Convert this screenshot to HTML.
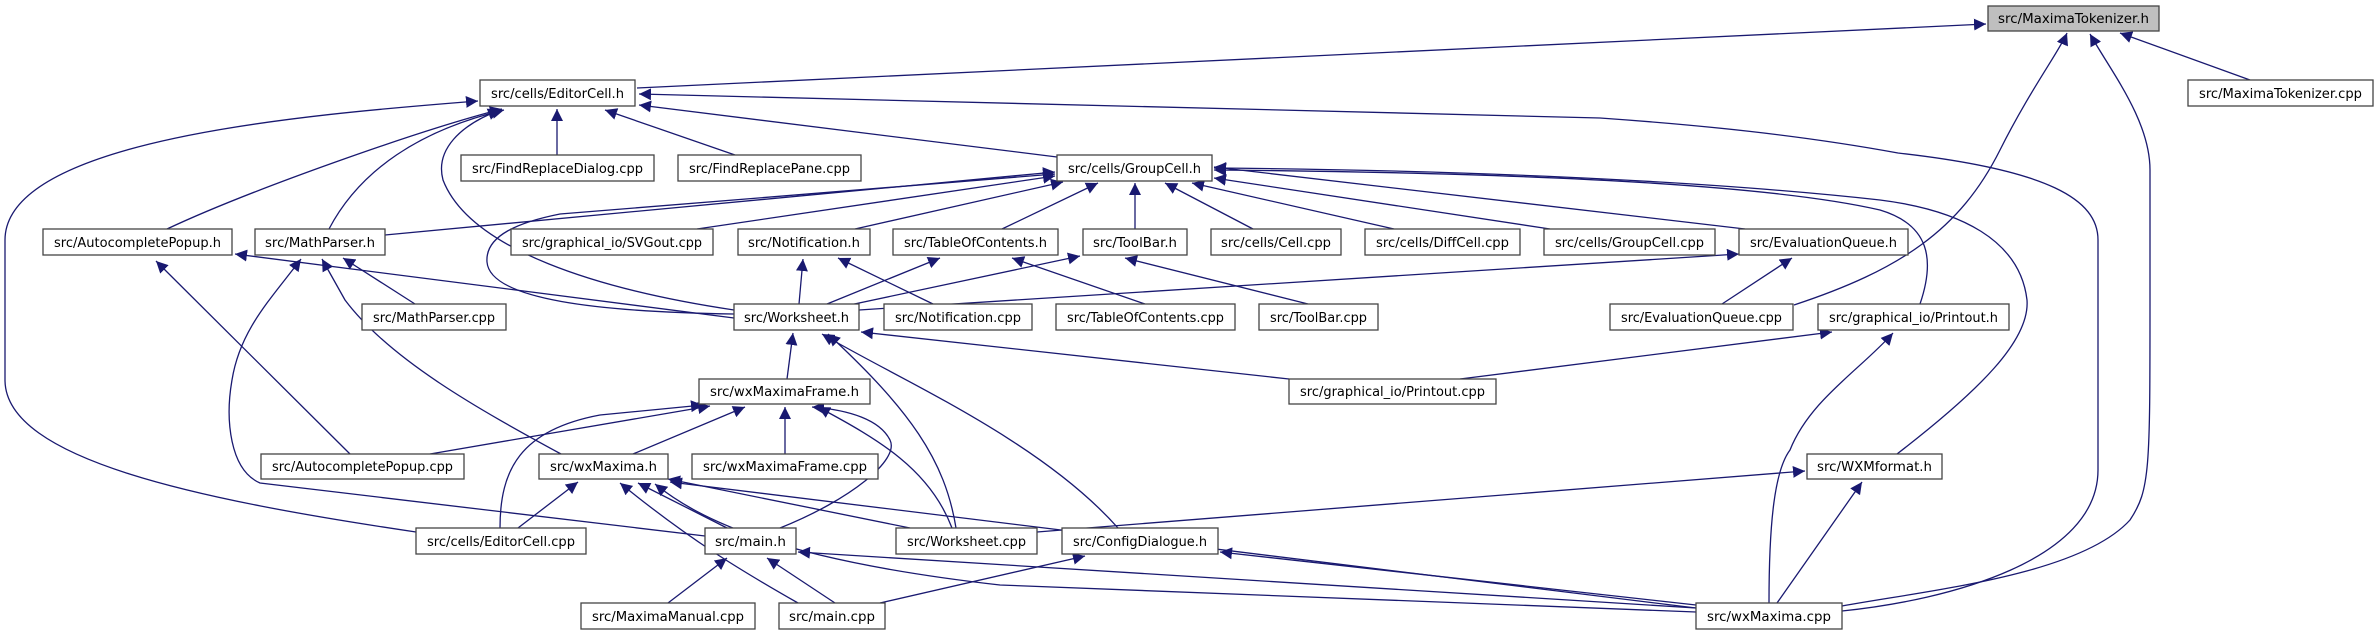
<!DOCTYPE html>
<html><head><meta charset="utf-8"><style>
html,body{margin:0;padding:0;background:#fff;}
svg{display:block;}
text{font-family:"DejaVu Sans","Liberation Sans",sans-serif;font-size:13px;fill:#000;}
.n{fill:#fff;stroke:#444;stroke-width:1.3;}
.e{fill:none;stroke:#191970;stroke-width:1.3;}
</style></head><body>
<svg width="2375" height="635" viewBox="0 0 2375 635" xmlns="http://www.w3.org/2000/svg">
<defs>
<marker id="a" markerUnits="userSpaceOnUse" markerWidth="14" markerHeight="12" refX="12" refY="6" orient="auto">
<path d="M0,0 L12,6 L0,12 z" fill="#191970"/>
</marker>
</defs>
<g class="e" marker-end="url(#a)">
<path d="M637,88 L1986,24"/>
<path d="M2250,80 L2120,33"/>
<path d="M1794,305 C1900,270 1960,230 2000,150 C2030,90 2060,50 2067,33"/>
<path d="M1842,606 C1930,590 2080,575 2130,520 C2150,490 2150,470 2150,300 L2150,170 C2150,120 2110,70 2090,34"/>
<path d="M1842,611 C1950,600 2098,560 2098,470 L2098,240 C2098,200 2050,170 1898,153 C1800,135 1700,125 1600,118 L639,94"/>
<path d="M1057,157 L639,105"/>
<path d="M557,155 L557,109"/>
<path d="M735,155 L605,110"/>
<path d="M167,229 C250,190 420,130 502,109"/>
<path d="M329,229 C360,170 420,130 504,110"/>
<path d="M734,310 C600,290 470,250 443,180 C435,150 460,125 500,110"/>
<path d="M416,532 C200,500 5,460 5,380 L5,240 C5,140 300,115 478,101"/>
<path d="M385,235 L1055,172"/>
<path d="M697,229 L1055,176"/>
<path d="M855,229 L1063,182"/>
<path d="M1002,229 L1098,183"/>
<path d="M1135,229 L1135,183"/>
<path d="M1253,229 L1165,183"/>
<path d="M1394,229 L1192,183"/>
<path d="M1550,229 L1214,178"/>
<path d="M1745,229 L1214,167"/>
<path d="M734,314 C600,312 490,300 487,262 C485,235 520,222 560,214 L1055,174"/>
<path d="M1920,304 C1935,260 1930,225 1880,210 C1750,180 1450,172 1214,170"/>
<path d="M1897,454 C1980,390 2030,340 2027,300 C2020,240 1960,210 1880,200 C1700,180 1450,170 1214,168"/>
<path d="M734,318 L235,254"/>
<path d="M350,454 L156,261"/>
<path d="M415,304 L343,258"/>
<path d="M561,454 C480,410 390,360 345,300 L322,259"/>
<path d="M705,536 L260,483 C230,470 225,420 232,380 C240,330 270,300 301,259"/>
<path d="M799,304 L803,259"/>
<path d="M933,304 L838,258"/>
<path d="M827,304 L940,258"/>
<path d="M1145,304 L1012,258"/>
<path d="M845,306 L1080,256"/>
<path d="M1308,304 L1125,258"/>
<path d="M859,310 L1739,254"/>
<path d="M1722,304 L1792,258"/>
<path d="M787,379 L793,333"/>
<path d="M1289,379 L861,332"/>
<path d="M956,528 C945,460 910,410 828,334"/>
<path d="M1118,528 C1040,440 900,380 822,334"/>
<path d="M1460,379 L1832,332"/>
<path d="M1769,603 C1769,520 1775,470 1790,450 C1810,400 1860,370 1893,333"/>
<path d="M785,454 L785,407"/>
<path d="M430,454 L710,406"/>
<path d="M500,528 C500,470 520,430 600,415 L703,405"/>
<path d="M633,454 L745,407"/>
<path d="M952,528 C930,470 880,440 818,407"/>
<path d="M780,528 C850,500 900,460 890,440 C880,420 850,410 812,407"/>
<path d="M518,528 L578,482"/>
<path d="M727,528 L638,483"/>
<path d="M798,603 C740,570 690,540 620,483"/>
<path d="M1696,612 L1000,585 C780,560 700,520 655,484"/>
<path d="M1696,608 L670,482"/>
<path d="M910,528 L668,479"/>
<path d="M1037,532 L1805,471"/>
<path d="M1777,603 L1862,482"/>
<path d="M668,603 L727,558"/>
<path d="M835,603 L767,558"/>
<path d="M1696,608 L798,552"/>
<path d="M880,603 L1085,556"/>
<path d="M1696,605 L1220,552"/>
</g>
<g>
<rect x="1988" y="6" width="171" height="25" fill="#bfbfbf" stroke="#444" stroke-width="1.3"/>
<text x="2073.5" y="23" text-anchor="middle" textLength="151" lengthAdjust="spacingAndGlyphs">src/MaximaTokenizer.h</text>
</g>
<g id="nodes"></g>
<g>
<rect class="n" x="480" y="80" width="155" height="26"/><text x="557.5" y="98" text-anchor="middle" textLength="133" lengthAdjust="spacingAndGlyphs">src/cells/EditorCell.h</text>
<rect class="n" x="2188" y="80" width="185" height="26"/><text x="2280.5" y="98" text-anchor="middle" textLength="163" lengthAdjust="spacingAndGlyphs">src/MaximaTokenizer.cpp</text>
<rect class="n" x="461" y="155" width="193" height="26"/><text x="557.5" y="173" text-anchor="middle" textLength="171" lengthAdjust="spacingAndGlyphs">src/FindReplaceDialog.cpp</text>
<rect class="n" x="678" y="155" width="183" height="26"/><text x="769.5" y="173" text-anchor="middle" textLength="161" lengthAdjust="spacingAndGlyphs">src/FindReplacePane.cpp</text>
<rect class="n" x="1057" y="155" width="155" height="26"/><text x="1134.5" y="173" text-anchor="middle" textLength="133" lengthAdjust="spacingAndGlyphs">src/cells/GroupCell.h</text>
<rect class="n" x="43" y="229" width="189" height="26"/><text x="137.5" y="247" text-anchor="middle" textLength="167" lengthAdjust="spacingAndGlyphs">src/AutocompletePopup.h</text>
<rect class="n" x="255" y="229" width="130" height="26"/><text x="320" y="247" text-anchor="middle" textLength="110" lengthAdjust="spacingAndGlyphs">src/MathParser.h</text>
<rect class="n" x="511" y="229" width="202" height="26"/><text x="612" y="247" text-anchor="middle" textLength="180" lengthAdjust="spacingAndGlyphs">src/graphical_io/SVGout.cpp</text>
<rect class="n" x="738" y="229" width="132" height="26"/><text x="804" y="247" text-anchor="middle" textLength="112" lengthAdjust="spacingAndGlyphs">src/Notification.h</text>
<rect class="n" x="893" y="229" width="165" height="26"/><text x="975.5" y="247" text-anchor="middle" textLength="143" lengthAdjust="spacingAndGlyphs">src/TableOfContents.h</text>
<rect class="n" x="1083" y="229" width="104" height="26"/><text x="1135" y="247" text-anchor="middle" textLength="84" lengthAdjust="spacingAndGlyphs">src/ToolBar.h</text>
<rect class="n" x="1211" y="229" width="130" height="26"/><text x="1276" y="247" text-anchor="middle" textLength="110" lengthAdjust="spacingAndGlyphs">src/cells/Cell.cpp</text>
<rect class="n" x="1365" y="229" width="155" height="26"/><text x="1442.5" y="247" text-anchor="middle" textLength="133" lengthAdjust="spacingAndGlyphs">src/cells/DiffCell.cpp</text>
<rect class="n" x="1544" y="229" width="171" height="26"/><text x="1629.5" y="247" text-anchor="middle" textLength="149" lengthAdjust="spacingAndGlyphs">src/cells/GroupCell.cpp</text>
<rect class="n" x="1739" y="229" width="169" height="26"/><text x="1823.5" y="247" text-anchor="middle" textLength="147" lengthAdjust="spacingAndGlyphs">src/EvaluationQueue.h</text>
<rect class="n" x="362" y="304" width="144" height="26"/><text x="434" y="322" text-anchor="middle" textLength="122" lengthAdjust="spacingAndGlyphs">src/MathParser.cpp</text>
<rect class="n" x="734" y="304" width="125" height="26"/><text x="796.5" y="322" text-anchor="middle" textLength="105" lengthAdjust="spacingAndGlyphs">src/Worksheet.h</text>
<rect class="n" x="884" y="304" width="148" height="26"/><text x="958" y="322" text-anchor="middle" textLength="126" lengthAdjust="spacingAndGlyphs">src/Notification.cpp</text>
<rect class="n" x="1056" y="304" width="179" height="26"/><text x="1145.5" y="322" text-anchor="middle" textLength="157" lengthAdjust="spacingAndGlyphs">src/TableOfContents.cpp</text>
<rect class="n" x="1259" y="304" width="119" height="26"/><text x="1318.5" y="322" text-anchor="middle" textLength="97" lengthAdjust="spacingAndGlyphs">src/ToolBar.cpp</text>
<rect class="n" x="1610" y="304" width="183" height="26"/><text x="1701.5" y="322" text-anchor="middle" textLength="161" lengthAdjust="spacingAndGlyphs">src/EvaluationQueue.cpp</text>
<rect class="n" x="1818" y="304" width="191" height="26"/><text x="1913.5" y="322" text-anchor="middle" textLength="169" lengthAdjust="spacingAndGlyphs">src/graphical_io/Printout.h</text>
<rect class="n" x="699" y="379" width="171" height="25"/><text x="784.5" y="396" text-anchor="middle" textLength="149" lengthAdjust="spacingAndGlyphs">src/wxMaximaFrame.h</text>
<rect class="n" x="1289" y="379" width="207" height="25"/><text x="1392.5" y="396" text-anchor="middle" textLength="185" lengthAdjust="spacingAndGlyphs">src/graphical_io/Printout.cpp</text>
<rect class="n" x="261" y="454" width="203" height="25"/><text x="362.5" y="471" text-anchor="middle" textLength="181" lengthAdjust="spacingAndGlyphs">src/AutocompletePopup.cpp</text>
<rect class="n" x="539" y="454" width="129" height="25"/><text x="603.5" y="471" text-anchor="middle" textLength="107" lengthAdjust="spacingAndGlyphs">src/wxMaxima.h</text>
<rect class="n" x="692" y="454" width="186" height="25"/><text x="785" y="471" text-anchor="middle" textLength="164" lengthAdjust="spacingAndGlyphs">src/wxMaximaFrame.cpp</text>
<rect class="n" x="1807" y="454" width="135" height="25"/><text x="1874.5" y="471" text-anchor="middle" textLength="115" lengthAdjust="spacingAndGlyphs">src/WXMformat.h</text>
<rect class="n" x="416" y="528" width="170" height="26"/><text x="501" y="546" text-anchor="middle" textLength="148" lengthAdjust="spacingAndGlyphs">src/cells/EditorCell.cpp</text>
<rect class="n" x="705" y="528" width="91" height="26"/><text x="750.5" y="546" text-anchor="middle" textLength="71" lengthAdjust="spacingAndGlyphs">src/main.h</text>
<rect class="n" x="896" y="528" width="141" height="26"/><text x="966.5" y="546" text-anchor="middle" textLength="119" lengthAdjust="spacingAndGlyphs">src/Worksheet.cpp</text>
<rect class="n" x="1062" y="528" width="156" height="26"/><text x="1140" y="546" text-anchor="middle" textLength="134" lengthAdjust="spacingAndGlyphs">src/ConfigDialogue.h</text>
<rect class="n" x="581" y="603" width="174" height="26"/><text x="668" y="621" text-anchor="middle" textLength="152" lengthAdjust="spacingAndGlyphs">src/MaximaManual.cpp</text>
<rect class="n" x="779" y="603" width="106" height="26"/><text x="832" y="621" text-anchor="middle" textLength="86" lengthAdjust="spacingAndGlyphs">src/main.cpp</text>
<rect class="n" x="1696" y="603" width="146" height="26"/><text x="1769" y="621" text-anchor="middle" textLength="124" lengthAdjust="spacingAndGlyphs">src/wxMaxima.cpp</text>
</g>
</svg>
</body></html>
